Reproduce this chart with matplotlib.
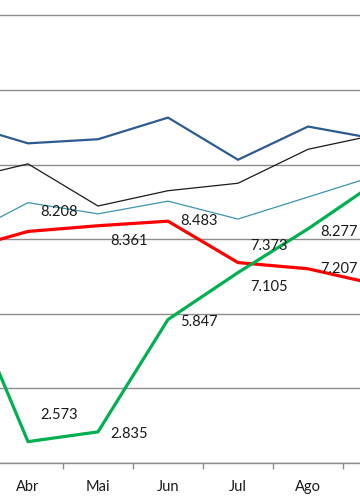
import matplotlib
matplotlib.use("Agg")
import matplotlib.pyplot as plt

months = ["Mar", "Abr", "Mai", "Jun", "Jul", "Ago", "Set"]
s_blue = [11.13, 10.57, 10.68, 11.26, 10.13, 11.02, 10.68]
s_black = [9.57, 10.02, 8.89, 9.30, 9.50, 10.41, 10.81]
s_teal = [8.00, 8.98, 8.68, 9.02, 8.54, 9.13, 9.72]
s_red = [7.68, 8.208, 8.361, 8.483, 7.373, 7.207, 6.78]
s_green = [7.05, 2.573, 2.835, 5.847, 7.105, 8.277, 9.56]

red_labels = {1: "8.208", 2: "8.361", 3: "8.483", 4: "7.373", 5: "7.207"}
green_labels = {1: "2.573", 2: "2.835", 3: "5.847", 4: "7.105", 5: "8.277"}

plt.rcParams['font.family'] = ['Lato', 'DejaVu Sans']

fig = plt.figure(figsize=(3.6, 5.04), dpi=100)
ax = fig.add_axes([0, 41/504, 1, 463/504])

x = list(range(len(months)))
ax.plot(x, s_blue, color="#2E5A92", lw=1.6, solid_joinstyle="miter", zorder=3)
ax.plot(x, s_black, color="#1a1a1a", lw=0.9, zorder=3)
ax.plot(x, s_teal, color="#3E93AE", lw=0.9, zorder=3)
ax.plot(x, s_red, color="#FF0000", lw=2.3, zorder=4)
ax.plot(x, s_green, color="#00B050", lw=2.3, zorder=4)

# label offsets in pixels (dx, dy) relative to point
red_off = {1: (31, 19), 2: (31, -15), 3: (31, 0), 4: (31, 17), 5: (31, 0)}
green_off = {1: (31, 27), 2: (31, -2), 3: (31, -2), 4: (31, -14), 5: (31, -3)}
for i, t in red_labels.items():
    ax.annotate(t, (x[i], s_red[i]), xytext=(red_off[i][0]*0.72, red_off[i][1]*0.72),
                textcoords="offset points", ha="center", va="center", fontsize=10.5,
                color="#1a1a1a", zorder=5)
for i, t in green_labels.items():
    ax.annotate(t, (x[i], s_green[i]), xytext=(green_off[i][0]*0.72, green_off[i][1]*0.72),
                textcoords="offset points", ha="center", va="center", fontsize=10.5,
                color="#1a1a1a", zorder=5)

ax.set_yticks([2, 4, 6, 8, 10, 12, 14])
ax.yaxis.grid(True, color="#8c8c8c", lw=1.0)
ax.set_axisbelow(True)
ax.tick_params(axis="y", left=False, labelleft=False)

ax.set_xticks(x)
ax.set_xticklabels(months, fontsize=10.5, color="#1a1a1a")
ax.set_xticks([i + 0.5 for i in range(-1, len(months))], minor=True)
ax.tick_params(axis="x", which="major", length=0, pad=12)
ax.tick_params(axis="x", which="minor", length=4, color="#8c8c8c", width=1)

ax.set_xlim(0.6, 0.6 + 360/70)
ax.set_ylim(2, 2 + 463/37.3)

for side in ["top", "left", "right"]:
    ax.spines[side].set_visible(False)
ax.spines["bottom"].set_color("#8c8c8c")
ax.spines["bottom"].set_linewidth(1.0)

fig.savefig("out.png", dpi=100)
